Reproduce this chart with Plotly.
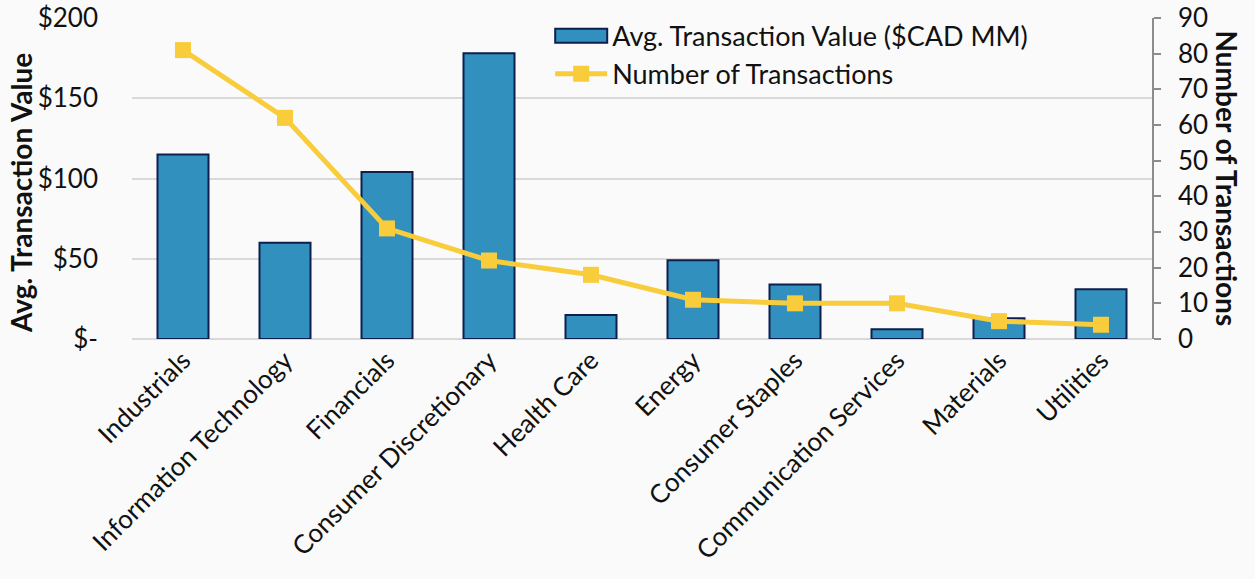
import plotly.graph_objects as go

# ── Data ─────────────────────────────────────────────────────────────
sectors = [
    "Industrials", "Information Technology", "Financials",
    "Consumer Discretionary", "Health Care", "Energy",
    "Consumer Staples", "Communication Services", "Materials", "Utilities",
]
avg_value = [115, 60, 104, 178, 15, 49, 34, 6, 13, 31]
n_transactions = [81, 62, 31, 22, 18, 11, 10, 10, 5, 4]

left_tickvals = [0, 50, 100, 150, 200]
left_ticktext = ["$-", "$50", "$100", "$150", "$200"]
right_tickvals = [0, 10, 20, 30, 40, 50, 60, 70, 80, 90]

# ── Colours ──────────────────────────────────────────────────────────
BAR = "#3190BE"
BAR_EDGE = "#0E1E4E"
LINE = "#F8CC3A"
GRID = "#D9D9D9"
TEXT = "#111111"
BG = "#FAFAFA"
FONT = "Lato, Arial, sans-serif"
FS = 26

fig = go.Figure()

fig.add_trace(go.Bar(
    x=sectors, y=avg_value,
    name="Avg. Transaction Value ($CAD MM)",
    width=0.5,
    marker=dict(color=BAR, line=dict(color=BAR_EDGE, width=2)),
    yaxis="y",
))

fig.add_trace(go.Scatter(
    x=sectors, y=n_transactions,
    name="Number of Transactions",
    mode="lines+markers",
    line=dict(color=LINE, width=5),
    marker=dict(symbol="square", size=16, color=LINE),
    yaxis="y2",
))

fig.update_layout(
    width=1255, height=579,
    paper_bgcolor=BG, plot_bgcolor=BG,
    font=dict(family=FONT, size=FS, color=TEXT),
    margin=dict(l=132, r=103, t=18, b=240),
    showlegend=True,
    legend=dict(
        x=0.41, y=1.02, xanchor="left", yanchor="top",
        bgcolor="rgba(0,0,0,0)", font=dict(size=27),
        tracegroupgap=0, itemwidth=52,
    ),
    xaxis=dict(
        range=[-0.5, len(sectors) - 0.5],
        tickangle=-45, showgrid=False, ticks="", automargin=False,
        showline=False, tickfont=dict(size=FS),
    ),
    yaxis=dict(
        range=[0, 200], tickvals=left_tickvals, ticktext=left_ticktext,
        showgrid=True, gridcolor=GRID, gridwidth=2, zeroline=True,
        zerolinecolor=GRID, zerolinewidth=2, automargin=False,
        showline=False, ticks="", ticklabelstandoff=33,
    ),
    yaxis2=dict(
        range=[0, 90], tickvals=right_tickvals, overlaying="y", side="right",
        showgrid=False, zeroline=False, showline=True, linecolor="#8C8C8C",
        linewidth=1.5, ticks="outside", ticklen=7, tickcolor="#8C8C8C",
        tickwidth=1.5, automargin=False, ticklabelstandoff=12,
    ),
    annotations=[
        dict(
            text="<b>Avg. Transaction Value</b>", textangle=-90,
            x=(21 - 132) / 1020, y=(579 - 240 - 193) / 321,
            xref="paper", yref="paper",
            xanchor="center", yanchor="middle", showarrow=False,
            font=dict(size=28, color=TEXT),
        ),
        dict(
            text="<b>Number of Transactions</b>", textangle=90,
            x=(1227 - 132) / 1020, y=0.5, xref="paper", yref="paper",
            xanchor="center", yanchor="middle", showarrow=False,
            font=dict(size=28, color=TEXT),
        ),
    ],
)

# page tweaks: no body margin, wide rectangular swatch for the bar legend item
post_js = """
document.body.style.margin = '0';
var gd = document.getElementById('{plot_id}');
function wideSwatch() {
    var items = gd.querySelectorAll('.legend .traces');
    if (items.length) {
        var p = items[0].querySelector('.legendpoints path');
        if (p) p.setAttribute('d', 'M26,7H-26V-7H26Z');
    }
}
wideSwatch();
gd.on('plotly_afterplot', wideSwatch);
"""

fig.write_html(
    "out.html",
    config={"displayModeBar": False},
    post_script=post_js,
)
